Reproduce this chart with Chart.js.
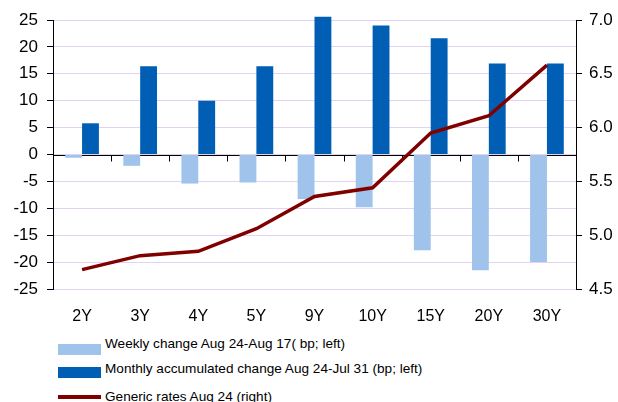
<!DOCTYPE html>
<html>
<head>
<meta charset="utf-8">
<script src="https://cdn.jsdelivr.net/npm/chart.js@4/dist/chart.umd.min.js"></script>
<style>
  body { margin: 0; background: #fff; font-family: "Liberation Sans", Arial, sans-serif; }
  #wrap { position: relative; width: 618px; height: 330px; }
  #legend { position: absolute; left: 0; top: 330px; width: 618px; }
  .item { position: absolute; left: 58px; height: 20px; font-size: 13.6px; color: #000; white-space: nowrap; }
  .item span.sw { position: absolute; left: 0; width: 43px; }
  .item span.tx { position: absolute; left: 47px; top: 0; line-height: 16px; }
</style>
</head>
<body>
<div id="wrap"><canvas id="ratesChart" width="618" height="330"></canvas></div>
<div id="legend"></div>
<script>
// Datos del gráfico
const tenors = ['2Y', '3Y', '4Y', '5Y', '9Y', '10Y', '15Y', '20Y', '30Y'];
const weeklyChange = [-0.6, -2.1, -5.4, -5.2, -8.3, -9.8, -17.8, -21.5, -20.0];
const monthlyChange = [5.8, 16.4, 10.0, 16.4, 25.6, 24.0, 21.6, 16.9, 16.9];
const genericRates = [4.68, 4.81, 4.85, 5.06, 5.36, 5.44, 5.95, 6.11, 6.58];
const leftTicks = [-25, 25, 5];
const rightTicks = [4.5, 7.0, 0.5];

const seriesLabels = [
    'Weekly change Aug 24-Aug 17( bp; left)',
    'Monthly accumulated change Aug 24-Jul 31 (bp; left)',
    'Generic rates Aug 24 (right)'
];
const colors = ['#9fc3ea', '#005eb4', '#800000'];

// Línea del cero con marcas entre categorías
const zeroAxis = {
    id: 'zeroAxis',
    beforeDatasetsDraw(chart) {
        const { ctx, chartArea, scales } = chart;
        const y0 = Math.round(scales.y.getPixelForValue(0)) + 0.5;
        ctx.save();
        ctx.strokeStyle = '#000';
        ctx.lineWidth = 1;
        ctx.beginPath();
        ctx.moveTo(chartArea.left, y0);
        ctx.lineTo(chartArea.right, y0);
        for (let i = 0; i <= tenors.length; i++) {
            const x = Math.round(chartArea.left + (chartArea.right - chartArea.left) * i / tenors.length) + 0.5;
            ctx.moveTo(x, y0);
            ctx.lineTo(x, y0 + 6);
        }
        ctx.stroke();
        ctx.restore();
    }
};

const ctx = document.getElementById('ratesChart').getContext('2d');
const ratesChart = new Chart(ctx, {
    type: 'bar',
    data: {
        labels: tenors,
        datasets: [{
            label: seriesLabels[0],
            data: weeklyChange,
            backgroundColor: colors[0],
            yAxisID: 'y',
            clip: 5,
            order: 1
        }, {
            label: seriesLabels[1],
            data: monthlyChange,
            backgroundColor: colors[1],
            yAxisID: 'y',
            clip: 5,
            order: 2
        }, {
            type: 'line',
            label: seriesLabels[2],
            data: genericRates,
            borderColor: colors[2],
            borderWidth: 3.5,
            pointRadius: 0,
            tension: 0,
            fill: false,
            yAxisID: 'y1',
            order: 0
        }]
    },
    options: {
        responsive: false,
        animation: false,
        categoryPercentage: 0.58,
        barPercentage: 1.0,
        layout: { padding: { top: 20, left: 0, right: 0, bottom: 0 } },
        plugins: { legend: { display: false }, tooltip: { enabled: false } },
        scales: {
            x: {
                grid: { display: false, drawTicks: false },
                border: { display: false },
                ticks: { color: '#000', font: { family: 'Liberation Sans', size: 16 }, padding: 18, maxRotation: 0 },
                afterFit(scale) { scale.height = 41; }
            },
            y: {
                position: 'left',
                min: leftTicks[0], max: leftTicks[1],
                ticks: { stepSize: leftTicks[2], color: '#000', font: { family: 'Liberation Sans', size: 17 }, padding: 9 },
                grid: { color: '#e4d2f4', tickColor: '#000', tickLength: 6, lineWidth: 1 },
                border: { display: true, color: '#000', width: 1 },
                afterFit(scale) { scale.width = 53; }
            },
            y1: {
                position: 'right',
                min: rightTicks[0], max: rightTicks[1],
                ticks: { stepSize: rightTicks[2], color: '#000', font: { family: 'Liberation Sans', size: 17 }, padding: 7,
                    callback: v => v.toFixed(1) },
                grid: { drawOnChartArea: false, tickColor: '#000', tickLength: 6 },
                border: { display: true, color: '#000', width: 1 },
                afterFit(scale) { scale.width = 42; }
            }
        }
    },
    plugins: [zeroAxis]
});

// Leyenda en HTML
function loadLegend() {
    const legend = document.getElementById('legend');
    const rows = [
        { top: 6, sw: 'top:8px;height:11px;' },
        { top: 31, sw: 'top:6px;height:11px;' },
        { top: 59, sw: 'top:6px;height:4px;' }
    ];
    seriesLabels.forEach((label, i) => {
        const item = document.createElement('div');
        item.className = 'item';
        item.style.top = rows[i].top + 'px';
        item.innerHTML = `<span class="sw" style="${rows[i].sw}background:${colors[i]}"></span><span class="tx">${label}</span>`;
        legend.appendChild(item);
    });
}

loadLegend();
</script>
</body>
</html>
